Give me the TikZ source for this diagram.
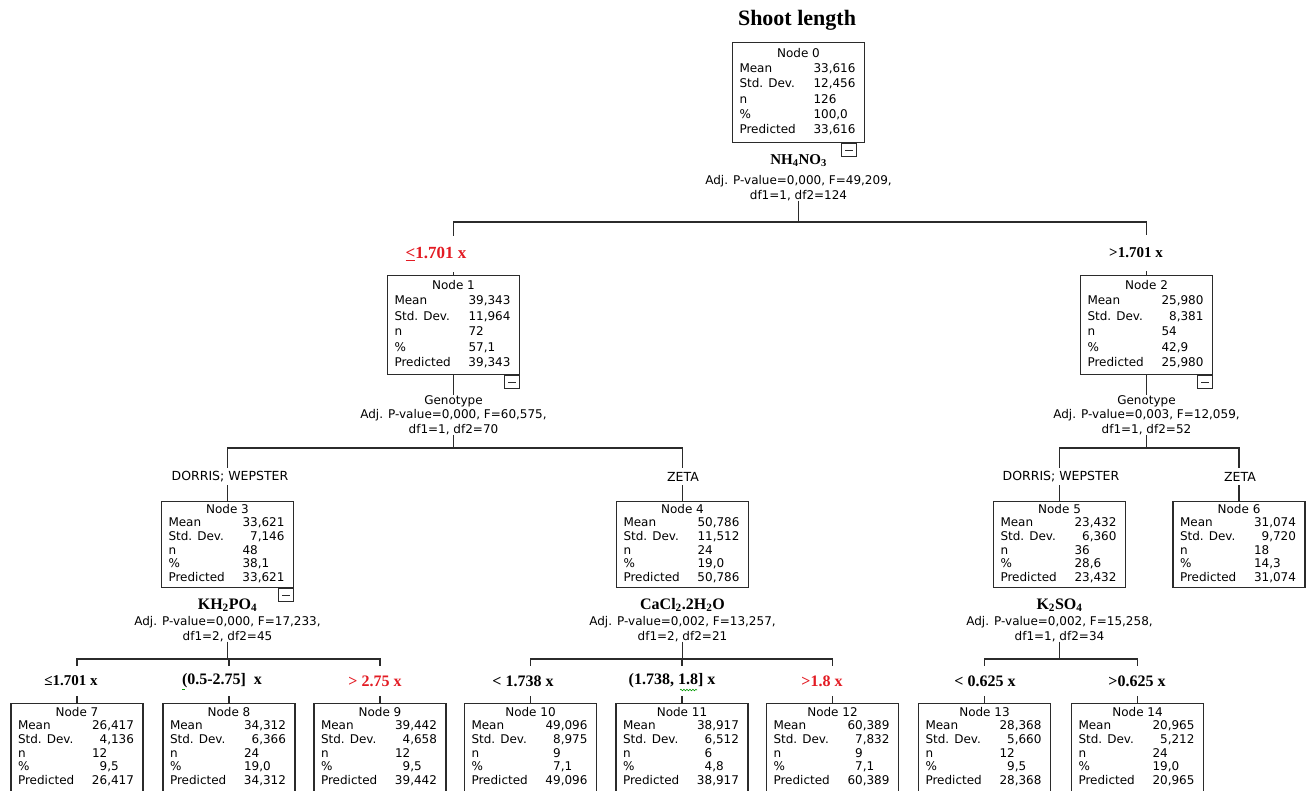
\documentclass[tikz,border=0pt]{standalone}
\usepackage{fontspec}
\setmainfont{Liberation Serif}
\newfontfamily\boxfont{DejaVu Sans}
\usetikzlibrary{decorations.pathmorphing}
\definecolor{splitred}{HTML}{E31B23}
\definecolor{linec}{HTML}{2B2B2B}
\newcommand\nodestats[6]{%
 \begin{tabular}{@{}p{74pt}@{}p{44pt}@{}}
 \multicolumn{2}{@{}c@{}}{#1}\\
 Mean & #2\\ Std. Dev. & #3\\ n & #4\\ \% & #5\\ Predicted & #6
 \end{tabular}}
\newcommand\pz{\phantom{0}}
\begin{document}
\begin{tikzpicture}[x=1pt,y=-1pt,
 statbox/.style={draw=linec, line width=1.1pt, inner sep=0pt, minimum width=132pt, anchor=north, font=\boxfont\fontsize{12}{13.7}\selectfont},
 lvlzero/.style={font=\boxfont\fontsize{12}{15.3}\selectfont, minimum height=100pt},
 lvlone/.style={font=\boxfont\fontsize{12}{15.5}\selectfont, minimum height=99pt},
 lvltwo/.style={minimum height=86pt},
 lvlthree/.style={minimum height=88pt},
 minusbox/.style={draw=linec, line width=1pt, minimum width=15pt, minimum height=13pt, inner sep=0pt, anchor=north east,
   path picture={\draw[line width=1pt] ([xshift=3.5pt]path picture bounding box.west) -- ([xshift=-3.5pt]path picture bounding box.east);}},
 split/.style={font=\boxfont\fontsize{12}{14.5}\selectfont, align=center, inner sep=0pt},
 chem/.style={font=\bfseries\fontsize{16}{18}\selectfont, inner sep=0pt},
 cut/.style={fill=white, inner xsep=1pt, inner ysep=0pt},
 brl/.style={cut, font=\bfseries\fontsize{16}{18}\selectfont},
 gl/.style={cut, font=\boxfont\fontsize{12.5}{14}\selectfont},
 edge/.style={draw=linec, line width=1.2pt},
 gapa/.style={minimum height=36pt},
 gapb/.style={minimum height=17pt},
 gapc/.style={minimum height=30pt}]
\useasboundingbox (0,0) rectangle (1312,790);

% title
\node[font=\bfseries\fontsize{22}{24}\selectfont] (title) at (797,20) {Shoot length};

% boxes
\node[statbox,lvlzero] (n0) at (798.5,42) {\nodestats{Node 0}{33,616}{12,456}{126}{100,0}{33,616}};
\node[statbox,lvlone] (n1) at (453.5,275) {\nodestats{Node 1}{39,343}{11,964}{72}{57,1}{39,343}};
\node[statbox,lvlone] (n2) at (1146.5,275) {\nodestats{Node 2}{25,980}{\pz8,381}{54}{42,9}{25,980}};
\node[statbox,lvltwo] (n3) at (227.5,501) {\nodestats{Node 3}{33,621}{\pz7,146}{48}{38,1}{33,621}};
\node[statbox,lvltwo] (n4) at (682.5,501) {\nodestats{Node 4}{50,786}{11,512}{24}{19,0}{50,786}};
\node[statbox,lvltwo] (n5) at (1059.5,501) {\nodestats{Node 5}{23,432}{\pz6,360}{36}{28,6}{23,432}};
\node[statbox,lvltwo] (n6) at (1239,501) {\nodestats{Node 6}{31,074}{\pz9,720}{18}{14,3}{31,074}};
\node[statbox,lvlthree] (n7) at (77,703) {\nodestats{Node 7}{26,417}{\pz4,136}{12}{\pz9,5}{26,417}};
\node[statbox,lvlthree] (n8) at (229,703) {\nodestats{Node 8}{34,312}{\pz6,366}{24}{19,0}{34,312}};
\node[statbox,lvlthree] (n9) at (380,703) {\nodestats{Node 9}{39,442}{\pz4,658}{12}{\pz9,5}{39,442}};
\node[statbox,lvlthree] (n10) at (530.5,703) {\nodestats{Node 10}{49,096}{\pz8,975}{\pz9}{\pz7,1}{49,096}};
\node[statbox,lvlthree] (n11) at (682,703) {\nodestats{Node 11}{38,917}{\pz6,512}{\pz6}{\pz4,8}{38,917}};
\node[statbox,lvlthree] (n12) at (832.5,703) {\nodestats{Node 12}{60,389}{\pz7,832}{\pz9}{\pz7,1}{60,389}};
\node[statbox,lvlthree] (n13) at (984.5,703) {\nodestats{Node 13}{28,368}{\pz5,660}{12}{\pz9,5}{28,368}};
\node[statbox,lvlthree] (n14) at (1137.5,703) {\nodestats{Node 14}{20,965}{\pz5,212}{24}{19,0}{20,965}};

% collapse boxes
\node[minusbox] (m0) at ([xshift=-8pt]n0.south east) {};
\node[minusbox] (m1) at (n1.south east) {};
\node[minusbox] (m2) at (n2.south east) {};
\node[minusbox] (m3) at (n3.south east) {};

% split descriptions
\node[chem,font=\bfseries\fontsize{15}{17}\selectfont] (c0) at (798.5,161) {NH\textsubscript{4}NO\textsubscript{3}};
\node[split] (t0) at (798.5,188) {Adj. P-value=0,000, F=49,209,\\df1=1, df2=124};
\node[split] (t1) at (453.5,415) {Genotype\\Adj. P-value=0,000, F=60,575,\\df1=1, df2=70};
\node[split] (t2) at (1146.5,415) {Genotype\\Adj. P-value=0,003, F=12,059,\\df1=1, df2=52};
\node[chem] (c3) at (227.5,605) {KH\textsubscript{2}PO\textsubscript{4}};
\node[split] (t3) at (227.5,629) {Adj. P-value=0,000, F=17,233,\\df1=2, df2=45};
\node[chem] (c4) at (682.5,605) {CaCl\textsubscript{2}.2H\textsubscript{2}O};
\node[split] (t4) at (682.5,629) {Adj. P-value=0,002, F=13,257,\\df1=2, df2=21};
\node[chem] (c5) at (1059.5,605) {K\textsubscript{2}SO\textsubscript{4}};
\node[split] (t5) at (1059.5,629) {Adj. P-value=0,002, F=15,258,\\df1=1, df2=34};

% bars
\coordinate (b0) at (798.5,222);
\coordinate (b1) at (453.5,448);
\coordinate (b2) at (1146.5,448);
\coordinate (b3) at (227.5,659);
\coordinate (b4) at (682.5,659);
\coordinate (b5) at (1059.5,659);

% connectors
\draw[edge] (t0.south) -- (b0);
\draw[edge] (b0) -| (n1.north);
\draw[edge] (b0) -| (n2.north);
\draw[edge] (n1.south) -- (t1.north);
\draw[edge] (n2.south) -- (t2.north);
\draw[edge] (t1.south) -- (b1);
\draw[edge] (t2.south) -- (b2);
\draw[edge] (b1) -| (n3.north);
\draw[edge] (b1) -| (n4.north);
\draw[edge] (b2) -| (n5.north);
\draw[edge] (b2) -| (n6.north);
\draw[edge] (t3.south) -- (b3);
\draw[edge] (t4.south) -- (b4);
\draw[edge] (t5.south) -- (b5);
\draw[edge] (b3) -| (n7.north);
\draw[edge] (b3) -| (n8.north);
\draw[edge] (b3) -| (n9.north);
\draw[edge] (b4) -| (n10.north);
\draw[edge] (b4) -| (n11.north);
\draw[edge] (b4) -| (n12.north);
\draw[edge] (b5) -| (n13.north);
\draw[edge] (b5) -| (n14.north);

% branch labels
\node[brl,gapa,text=splitred,font=\bfseries\fontsize{17}{19}\selectfont] (l1) at (436,254) {\underline{<}1.701 x};
\node[brl,gapa,font=\bfseries\fontsize{15}{17}\selectfont] (l2) at (1136,253) {>1.701 x};
\node[gl,gapb] (l3) at (230,476.5) {DORRIS; WEPSTER};
\node[gl,gapb] (l4) at (683,476.5) {ZETA};
\node[gl,gapb] (l5) at (1061,476.5) {DORRIS; WEPSTER};
\node[gl,gapb] (l6) at (1240,476.5) {ZETA};
\node[brl,gapc,font=\bfseries\fontsize{15}{17}\selectfont] (l7) at (71,681) {≤1.701 x};
\node[brl,gapc] (l8) at (222,681) {(0.5-2.75]\ \ x};
\node[brl,gapc,text=splitred] (l9) at (375,681) {> 2.75 x};
\node[brl,gapc] (l10) at (523,681) {< 1.738 x};
\node[brl,gapc] (l11) at (672,681) {(1.738, 1.8] x};
\node[brl,gapc,text=splitred] (l12) at (822,681) {>1.8 x};
\node[brl,gapc] (l13) at (985,681) {< 0.625 x};
\node[brl,gapc] (l14) at (1137,681) {>0.625 x};

% spell-check squiggles
\draw[green!60!black, line width=0.6pt, decorate, decoration={snake, amplitude=0.8pt, segment length=3pt}] (680,690) -- (697,690);
\draw[green!60!black, line width=0.6pt] (182,689) -- (185,689);
\end{tikzpicture}
\end{document}
